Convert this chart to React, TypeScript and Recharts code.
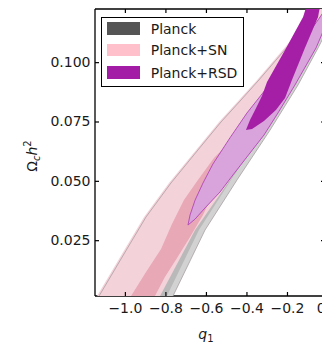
import React from "react";
import { ScatterChart, Scatter, XAxis, YAxis, Legend } from "recharts";

// Contour outlines in (q1, Omega_c h^2), going up the left side of each region
// and back down the right side. Points past the frame get clipped away.
const planck95Q1 = [-1.199, -1.13, -1.007, -0.898, -0.775, -0.642, -0.528, -0.429, -0.341, -0.197, -0.044, 0.044, 0.119, 0.059, -0.049, -0.148, -0.286, -0.449, -0.607, -0.765, -0.819];
const planck95Om = [-0.0084, 0.0017, 0.0194, 0.035, 0.0493, 0.0632, 0.075, 0.0843, 0.0927, 0.107, 0.1222, 0.1327, 0.1327, 0.1243, 0.1062, 0.0906, 0.0716, 0.0506, 0.0295, 0.0017, -0.0084];

const planck68Q1 = [-1.106, -1.036, -0.913, -0.805, -0.681, -0.548, -0.434, -0.336, -0.247, -0.104, 0.04, 0.079, 0.104, 0.03, -0.079, -0.178, -0.316, -0.479, -0.637, -0.795, -0.849];
const planck68Om = [-0.0084, 0.0017, 0.0194, 0.035, 0.0493, 0.0632, 0.075, 0.0843, 0.0927, 0.107, 0.1222, 0.1327, 0.1327, 0.1243, 0.1062, 0.0906, 0.0716, 0.0506, 0.0295, 0.0017, -0.0084];

const sn95Q1 = [-1.209, -1.14, -1.017, -0.908, -0.785, -0.651, -0.538, -0.439, -0.35, -0.207, -0.054, 0.035, 0.094, 0.03, -0.069, -0.178, -0.321, -0.484, -0.656, -0.829, -0.883];
const sn95Om = [-0.0084, 0.0017, 0.0194, 0.035, 0.0493, 0.0632, 0.075, 0.0843, 0.0927, 0.107, 0.1222, 0.1327, 0.1327, 0.1243, 0.1095, 0.0906, 0.0716, 0.0506, 0.0295, 0.0017, -0.0084];

const sn68Q1 = [-1.041, -0.972, -0.898, -0.824, -0.77, -0.711, -0.642, -0.563, -0.474, -0.424, -0.405, -0.434, -0.494, -0.558, -0.617, -0.681, -0.745, -0.805, -0.854, -0.913];
const sn68Om = [-0.0084, 0.0017, 0.0118, 0.0215, 0.032, 0.0421, 0.0506, 0.0598, 0.0674, 0.0725, 0.0716, 0.0666, 0.0569, 0.0464, 0.0358, 0.0266, 0.0177, 0.0097, 0.0017, -0.0084];

const rsd95Q1 = [-0.691, -0.681, -0.656, -0.617, -0.568, -0.484, -0.4, -0.271, -0.148, -0.049, 0.035, 0.069, 0.0, -0.059, -0.163, -0.247, -0.316, -0.4, -0.469, -0.533, -0.607, -0.656];
const rsd95Om = [0.0316, 0.0358, 0.0421, 0.0493, 0.0573, 0.0683, 0.0788, 0.0927, 0.1062, 0.118, 0.1285, 0.1285, 0.118, 0.1062, 0.0906, 0.0788, 0.0695, 0.0603, 0.0527, 0.0455, 0.0388, 0.0341];

const rsd68Q1 = [-0.405, -0.385, -0.355, -0.326, -0.301, -0.212, -0.123, -0.089, -0.03, -0.049, -0.114, -0.178, -0.212, -0.257, -0.316, -0.375];
const rsd68Om = [0.0716, 0.0758, 0.0809, 0.0859, 0.0918, 0.1053, 0.1192, 0.1285, 0.1285, 0.1192, 0.1062, 0.0927, 0.0851, 0.0801, 0.0754, 0.072];

const seriesNames = ["Planck", "Planck+SN", "Planck+RSD"];
const q1Ticks = [-1.0, -0.8, -0.6, -0.4, -0.2, 0.0];
const omegaTicks = [0.025, 0.05, 0.075, 0.1];

const Q1_DOMAIN: [number, number] = [-1.15, 0];
const OMEGA_DOMAIN: [number, number] = [0.0017, 0.1226];

const FONT = "'DejaVu Sans', sans-serif";
const INK = "#1a1a1a";
const SWATCHES = ["#555555", "#ffc0cb", "#a21ca6"];

const toPoints = (q1: number[], om: number[]) =>
  q1.map((x, i) => ({ x, y: om[i] }));

const planck95 = toPoints(planck95Q1, planck95Om);
const planck68 = toPoints(planck68Q1, planck68Om);
const sn95 = toPoints(sn95Q1, sn95Om);
const sn68 = toPoints(sn68Q1, sn68Om);
const rsd95 = toPoints(rsd95Q1, rsd95Om);
const rsd68 = toPoints(rsd68Q1, rsd68Om);

const NoDot = () => <g />;

const fmtQ = (v: number) =>
  v < 0 ? "\u2212" + Math.abs(v).toFixed(1) : v.toFixed(1);

// ticks point into the frame on every side
const BottomTick = ({ x, y, payload }: any) => (
  <g>
    <line x1={x} y1={y} x2={x} y2={y - 4} stroke="#000" strokeWidth={1.2} />
    <text x={x} y={y + 17} textAnchor="middle" fontFamily={FONT} fontSize={14} fill={INK}>
      {fmtQ(payload.value)}
    </text>
  </g>
);

const TopTick = ({ x, y }: any) => (
  <line x1={x} y1={y} x2={x} y2={y + 4} stroke="#000" strokeWidth={1.2} />
);

const LeftTick = ({ x, y, payload }: any) => (
  <g>
    <line x1={x} y1={y} x2={x + 4} y2={y} stroke="#000" strokeWidth={1.2} />
    <text x={x - 4.5} y={y + 4.5} textAnchor="end" fontFamily={FONT} fontSize={14} fill={INK}>
      {payload.value.toFixed(3)}
    </text>
  </g>
);

const RightTick = ({ x, y }: any) => (
  <line x1={x} y1={y} x2={x - 7} y2={y} stroke="#000" strokeWidth={1.2} />
);

const XTitle = () => (
  <text x={206} y={339} textAnchor="middle" fontFamily={FONT} fontSize={14} fill={INK}>
    <tspan fontStyle="italic">q</tspan>
    <tspan fontSize={10} dy={3}>1</tspan>
  </text>
);

const YTitle = () => (
  <text
    x={37}
    y={156}
    transform="rotate(-90 37 156)"
    textAnchor="middle"
    fontFamily={FONT}
    fontSize={14}
    fill={INK}
  >
    Ω<tspan fontSize={10} fontStyle="italic" dy={3}>c</tspan>
    <tspan fontStyle="italic" dy={-3}>h</tspan>
    <tspan fontSize={10} dy={-6}>2</tspan>
  </text>
);

const rowTops = [4.4, 25.7, 48.4];

const LegendBox = () => (
  <div
    style={{
      position: "relative",
      width: 143,
      height: 70,
      boxSizing: "border-box",
      border: "1.3px solid #000",
      background: "#fff",
      fontFamily: FONT,
      fontSize: 14,
      color: INK,
    }}
  >
    {seriesNames.map((name, i) => (
      <div
        key={name}
        style={{
          position: "absolute",
          left: 4.7,
          top: rowTops[i],
          height: 12.5,
          display: "flex",
          alignItems: "center",
          whiteSpace: "nowrap",
        }}
      >
        <span style={{ display: "inline-block", width: 33, height: 12.5, background: SWATCHES[i] }} />
        <span style={{ marginLeft: 11 }}>{name}</span>
      </div>
    ))}
  </div>
);

const App = () => {
  return (
    <div style={{ position: "absolute", left: 0, top: 0, width: 322, height: 343, overflow: "hidden", background: "#fff" }}>
      <ScatterChart width={340} height={343} margin={{ top: 8, right: 0, bottom: 0, left: 0 }}>
        <XAxis
          type="number"
          dataKey="x"
          domain={Q1_DOMAIN}
          allowDataOverflow
          ticks={q1Ticks}
          height={47}
          tickSize={0}
          tickMargin={0}
          tickLine={false}
          tick={<BottomTick />}
          axisLine={{ stroke: "#000", strokeWidth: 1.3 }}
          label={<XTitle />}
        />
        <XAxis
          xAxisId="top"
          orientation="top"
          type="number"
          dataKey="x"
          domain={Q1_DOMAIN}
          allowDataOverflow
          ticks={q1Ticks}
          height={1}
          tickSize={0}
          tickMargin={0}
          tickLine={false}
          tick={<TopTick />}
          axisLine={{ stroke: "#000", strokeWidth: 1.3 }}
        />
        <YAxis
          type="number"
          dataKey="y"
          domain={OMEGA_DOMAIN}
          allowDataOverflow
          ticks={omegaTicks}
          width={95}
          tickSize={0}
          tickMargin={0}
          tickLine={false}
          tick={<LeftTick />}
          axisLine={{ stroke: "#000", strokeWidth: 1.3 }}
          label={<YTitle />}
        />
        <YAxis
          yAxisId="right"
          orientation="right"
          type="number"
          dataKey="y"
          domain={OMEGA_DOMAIN}
          allowDataOverflow
          ticks={omegaTicks}
          width={12}
          tickSize={0}
          tickMargin={0}
          tickLine={false}
          tick={<RightTick />}
          axisLine={{ stroke: "#000", strokeWidth: 1.3 }}
        />

        {/* Planck */}
        <Scatter name="planck95" data={planck95} shape={NoDot} isAnimationActive={false}
          line={{ fill: "#d2d2d2", stroke: "none" }} lineJointType="linearClosed" />
        <Scatter name="planck68" data={planck68} shape={NoDot} isAnimationActive={false}
          line={{ fill: "#b9b9b9", stroke: "none" }} lineJointType="linearClosed" />

        {/* Planck+SN */}
        <Scatter name="sn95" data={sn95} shape={NoDot} isAnimationActive={false}
          line={{ fill: "#f4d2da", stroke: "none" }} lineJointType="linearClosed" />
        <Scatter name="sn68" data={sn68} shape={NoDot} isAnimationActive={false}
          line={{ fill: "#e8a8b6", stroke: "none" }} lineJointType="linearClosed" />

        {/* Planck outline shows through the SN fill */}
        <Scatter name="planck95edge" data={planck95} shape={NoDot} isAnimationActive={false}
          line={{ fill: "none", stroke: "#a8a0a2", strokeWidth: 0.8 }} lineJointType="linearClosed" />

        {/* Planck+RSD */}
        <Scatter name="rsd95" data={rsd95} shape={NoDot} isAnimationActive={false}
          line={{ fill: "#d9a3db", stroke: "#b550b8", strokeWidth: 1 }} lineJointType="linearClosed" />
        <Scatter name="rsd68" data={rsd68} shape={NoDot} isAnimationActive={false}
          line={{ fill: "#a51fa6", stroke: "none" }} lineJointType="linearClosed" />

        <Legend
          layout="vertical"
          verticalAlign="middle"
          align="center"
          wrapperStyle={{ left: 101, top: 17 }}
          content={<LegendBox />}
        />
      </ScatterChart>
    </div>
  );
};

export default App;
